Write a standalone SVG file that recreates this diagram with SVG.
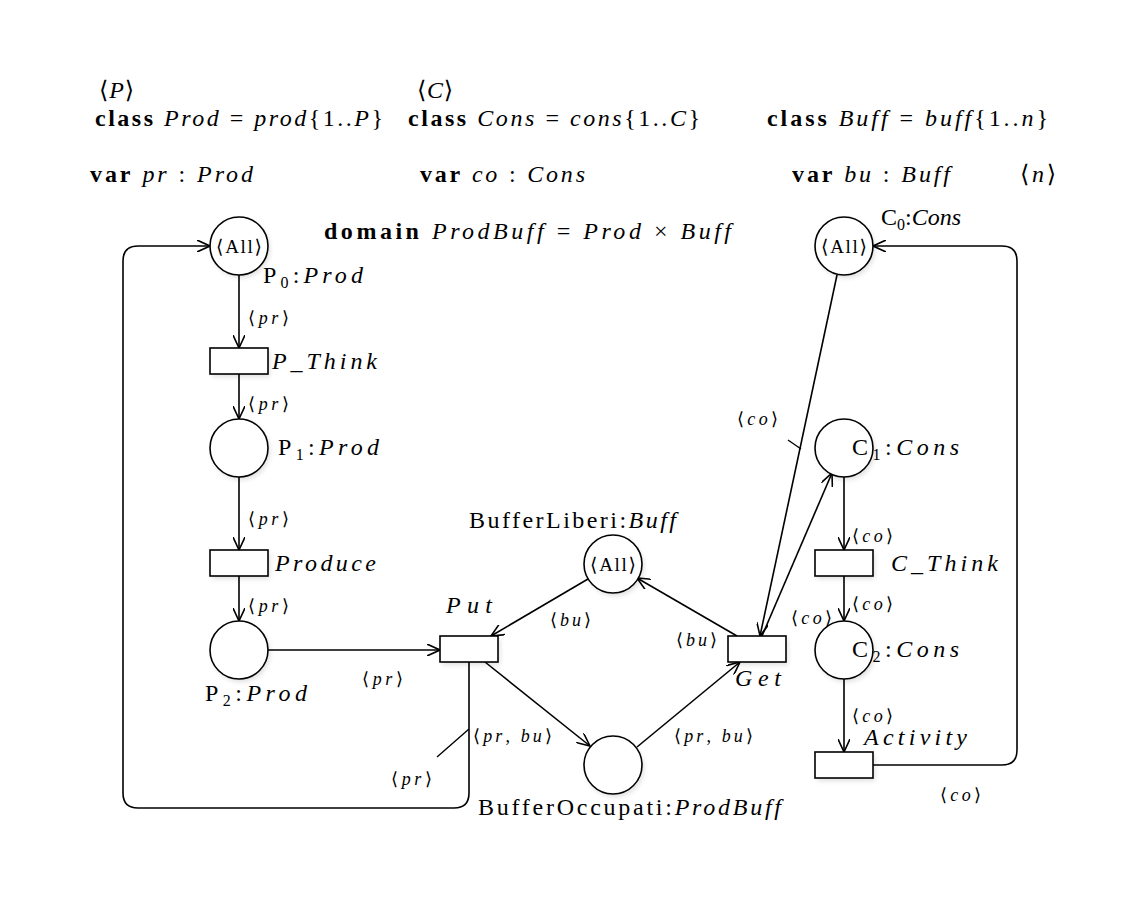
<svg xmlns="http://www.w3.org/2000/svg" width="1148" height="901" viewBox="0 0 1148 901">
<style>
text{font-family:"Liberation Serif","DejaVu Serif",serif;fill:#000}
.t{font-size:24px}
.l{font-size:18px}
.a{font-size:19px}
.i{font-style:italic}
.b{font-weight:bold}
.pl{fill:#fff;stroke:#000;stroke-width:1.6}
.tr{fill:#fff;stroke:#000;stroke-width:1.6}
.sh{fill:#000;opacity:0.12;filter:url(#blur)}
.arc{fill:none;stroke:#000;stroke-width:1.6}
.tk{stroke:#000;stroke-width:1.4}
</style>
<defs>
<filter id="blur" x="-30%" y="-30%" width="160%" height="160%"><feGaussianBlur stdDeviation="2.5"/></filter>
<marker id="ah" viewBox="0 0 14 12" refX="13" refY="6" markerWidth="14" markerHeight="12" markerUnits="userSpaceOnUse" orient="auto">
<path d="M0,0 L13,6 L0,12" fill="none" stroke="#000" stroke-width="1.6"/>
</marker>
</defs>
<rect width="1148" height="901" fill="#fff"/>

<g id="declarations">
<text class="t" x="99" y="98" textLength="35" lengthAdjust="spacing">⟨<tspan class="i">P</tspan>⟩</text>
<text class="t" x="95" y="126" textLength="288" lengthAdjust="spacing"><tspan class="b">class</tspan> <tspan class="i">Prod</tspan> = <tspan class="i">prod</tspan>{1..<tspan class="i">P</tspan>}</text>
<text class="t" x="417" y="98" textLength="36" lengthAdjust="spacing">⟨<tspan class="i">C</tspan>⟩</text>
<text class="t" x="408" y="126" textLength="292" lengthAdjust="spacing"><tspan class="b">class</tspan> <tspan class="i">Cons</tspan> = <tspan class="i">cons</tspan>{1..<tspan class="i">C</tspan>}</text>
<text class="t" x="767" y="126" textLength="281" lengthAdjust="spacing"><tspan class="b">class</tspan> <tspan class="i">Buff</tspan> = <tspan class="i">buff</tspan>{1..<tspan class="i">n</tspan>}</text>
<text class="t" x="90" y="182" textLength="163" lengthAdjust="spacing"><tspan class="b">var</tspan> <tspan class="i">pr</tspan> : <tspan class="i">Prod</tspan></text>
<text class="t" x="420" y="182" textLength="165" lengthAdjust="spacing"><tspan class="b">var</tspan> <tspan class="i">co</tspan> : <tspan class="i">Cons</tspan></text>
<text class="t" x="792" y="182" textLength="158" lengthAdjust="spacing"><tspan class="b">var</tspan> <tspan class="i">bu</tspan> : <tspan class="i">Buff</tspan></text>
<text class="t" x="1020" y="182" textLength="36" lengthAdjust="spacing">⟨<tspan class="i">n</tspan>⟩</text>
<text class="t" x="324" y="239" textLength="407" lengthAdjust="spacing"><tspan class="b">domain</tspan> <tspan class="i">ProdBuff</tspan> = <tspan class="i">Prod</tspan> × <tspan class="i">Buff</tspan></text>
</g>

<g id="connectors">
<path class="arc" d="M239,275 L239,348" marker-end="url(#ah)"/>
<path class="arc" d="M239,374 L239,419" marker-end="url(#ah)"/>
<path class="arc" d="M239,477 L239,550" marker-end="url(#ah)"/>
<path class="arc" d="M239,576 L239,621" marker-end="url(#ah)"/>
<path class="arc" d="M268,650 L440,650" marker-end="url(#ah)"/>
<path class="arc" d="M469,662 L469,793 Q469,808 454,808 L138,808 Q123,808 123,793 L123,261 Q123,246 138,246 L210,246" marker-end="url(#ah)"/>
<path class="arc" d="M588,579 L491,636" marker-end="url(#ah)"/>
<path class="arc" d="M485,662 L590,746" marker-end="url(#ah)"/>
<path class="arc" d="M637,747 L740,662" marker-end="url(#ah)"/>
<path class="arc" d="M737,636 L637,578" marker-end="url(#ah)"/>
<path class="arc" d="M837,275 L760,636" marker-end="url(#ah)"/>
<path class="arc" d="M762,636 L832,473" marker-end="url(#ah)"/>
<path class="arc" d="M844,477 L844,550" marker-end="url(#ah)"/>
<path class="arc" d="M844,576 L844,621" marker-end="url(#ah)"/>
<path class="arc" d="M844,679 L844,752" marker-end="url(#ah)"/>
<path class="arc" d="M873,765 L1002,765 Q1017,765 1017,750 L1017,261 Q1017,246 1002,246 L873,246" marker-end="url(#ah)"/>
<line class="tk" x1="437" y1="757" x2="469" y2="729"/>
<line class="tk" x1="788" y1="440" x2="801" y2="449"/>
<text class="l" x="248" y="324" textLength="41" lengthAdjust="spacing">⟨<tspan class="i">pr</tspan>⟩</text>
<text class="l" x="248" y="410" textLength="41" lengthAdjust="spacing">⟨<tspan class="i">pr</tspan>⟩</text>
<text class="l" x="248" y="525" textLength="41" lengthAdjust="spacing">⟨<tspan class="i">pr</tspan>⟩</text>
<text class="l" x="248" y="612" textLength="41" lengthAdjust="spacing">⟨<tspan class="i">pr</tspan>⟩</text>
<text class="l" x="362" y="685" textLength="41" lengthAdjust="spacing">⟨<tspan class="i">pr</tspan>⟩</text>
<text class="l" x="391" y="785" textLength="41" lengthAdjust="spacing">⟨<tspan class="i">pr</tspan>⟩</text>
<text class="l" x="550" y="626" textLength="41" lengthAdjust="spacing">⟨<tspan class="i">bu</tspan>⟩</text>
<text class="l" x="676" y="646" textLength="41" lengthAdjust="spacing">⟨<tspan class="i">bu</tspan>⟩</text>
<text class="l" x="473" y="742" textLength="79" lengthAdjust="spacing">⟨<tspan class="i">pr</tspan>, <tspan class="i">bu</tspan>⟩</text>
<text class="l" x="674" y="742" textLength="79" lengthAdjust="spacing">⟨<tspan class="i">pr</tspan>, <tspan class="i">bu</tspan>⟩</text>
<text class="l" x="737" y="425" textLength="41" lengthAdjust="spacing">⟨<tspan class="i">co</tspan>⟩</text>
<text class="l" x="791" y="624" textLength="41" lengthAdjust="spacing">⟨<tspan class="i">co</tspan>⟩</text>
<text class="l" x="852" y="542" textLength="41" lengthAdjust="spacing">⟨<tspan class="i">co</tspan>⟩</text>
<text class="l" x="852" y="610" textLength="41" lengthAdjust="spacing">⟨<tspan class="i">co</tspan>⟩</text>
<text class="l" x="852" y="722" textLength="41" lengthAdjust="spacing">⟨<tspan class="i">co</tspan>⟩</text>
<text class="l" x="940" y="801" textLength="41" lengthAdjust="spacing">⟨<tspan class="i">co</tspan>⟩</text>
</g>

<g id="P0"><circle class="sh" cx="241" cy="249" r="29"/><circle class="pl" cx="239" cy="246" r="29"/><text class="a" x="216" y="253" textLength="46" lengthAdjust="spacing">⟨All⟩</text><text class="t" x="263" y="283" textLength="100" lengthAdjust="spacing">P<tspan font-size="16" dy="5">0</tspan><tspan dy="-5">:</tspan><tspan class="i">Prod</tspan></text></g>
<g id="P_Think"><rect class="sh" x="212" y="351" width="58" height="26"/><rect class="tr" x="210" y="348" width="58" height="26"/><text class="t i" x="272" y="369" textLength="105" lengthAdjust="spacing">P_Think</text></g>
<g id="P1"><circle class="sh" cx="241" cy="451" r="29"/><circle class="pl" cx="239" cy="448" r="29"/><text class="t" x="278" y="455" textLength="101" lengthAdjust="spacing">P<tspan font-size="16" dy="5">1</tspan><tspan dy="-5">:</tspan><tspan class="i">Prod</tspan></text></g>
<g id="Produce"><rect class="sh" x="212" y="553" width="58" height="26"/><rect class="tr" x="210" y="550" width="58" height="26"/><text class="t i" x="275" y="571" textLength="101" lengthAdjust="spacing">Produce</text></g>
<g id="P2"><circle class="sh" cx="241" cy="653" r="29"/><circle class="pl" cx="239" cy="650" r="29"/><text class="t" x="205" y="701" textLength="102" lengthAdjust="spacing">P<tspan font-size="16" dy="5">2</tspan><tspan dy="-5">:</tspan><tspan class="i">Prod</tspan></text></g>
<g id="Put"><rect class="sh" x="442" y="639" width="58" height="26"/><rect class="tr" x="440" y="636" width="58" height="26"/><text class="t i" x="446" y="613" textLength="46" lengthAdjust="spacing">Put</text></g>
<g id="BufferLiberi"><circle class="sh" cx="615" cy="567" r="29"/><circle class="pl" cx="613" cy="564" r="29"/><text class="a" x="590" y="571" textLength="46" lengthAdjust="spacing">⟨All⟩</text><text class="t" x="469" y="528" textLength="207" lengthAdjust="spacing">BufferLiberi:<tspan class="i">Buff</tspan></text></g>
<g id="BufferOccupati"><circle class="sh" cx="615" cy="768" r="29"/><circle class="pl" cx="613" cy="765" r="29"/><text class="t" x="478" y="815" textLength="303" lengthAdjust="spacing">BufferOccupati:<tspan class="i">ProdBuff</tspan></text></g>
<g id="Get"><rect class="sh" x="730" y="639" width="58" height="26"/><rect class="tr" x="728" y="636" width="58" height="26"/><text class="t i" x="735" y="686" textLength="46" lengthAdjust="spacing">Get</text></g>
<g id="C0"><circle class="sh" cx="846" cy="249" r="29"/><circle class="pl" cx="844" cy="246" r="29"/><text class="a" x="821" y="253" textLength="46" lengthAdjust="spacing">⟨All⟩</text><text class="t" x="881" y="225" textLength="80" lengthAdjust="spacing">C<tspan font-size="16" dy="5">0</tspan><tspan dy="-5">:</tspan><tspan class="i">Cons</tspan></text></g>
<g id="C1"><circle class="sh" cx="846" cy="451" r="29"/><circle class="pl" cx="844" cy="448" r="29"/><text class="t" x="852" y="455" textLength="107" lengthAdjust="spacing">C<tspan font-size="16" dy="5">1</tspan><tspan dy="-5">:</tspan><tspan class="i">Cons</tspan></text></g>
<g id="C_Think"><rect class="sh" x="817" y="553" width="58" height="26"/><rect class="tr" x="815" y="550" width="58" height="26"/><text class="t i" x="891" y="571" textLength="107" lengthAdjust="spacing">C_Think</text></g>
<g id="C2"><circle class="sh" cx="846" cy="653" r="29"/><circle class="pl" cx="844" cy="650" r="29"/><text class="t" x="852" y="657" textLength="107" lengthAdjust="spacing">C<tspan font-size="16" dy="5">2</tspan><tspan dy="-5">:</tspan><tspan class="i">Cons</tspan></text></g>
<g id="Activity"><rect class="sh" x="817" y="755" width="58" height="26"/><rect class="tr" x="815" y="752" width="58" height="26"/><text class="t i" x="864" y="745" textLength="103" lengthAdjust="spacing">Activity</text></g>
</svg>
